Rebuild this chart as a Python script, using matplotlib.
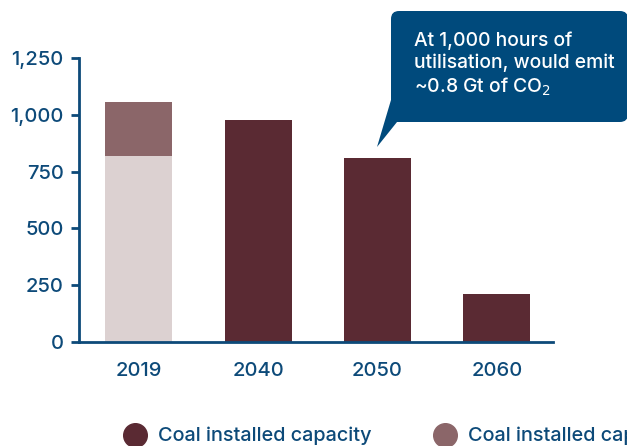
import numpy as np
import matplotlib
import matplotlib.pyplot as plt
from matplotlib.patches import Polygon, FancyBboxPatch
from matplotlib.lines import Line2D

matplotlib.rcParams.update({'font.family': ['Inter', 'DejaVu Sans']})

years = ['2019', '2040', '2050', '2060']
installed = [818, 977, 810, 211]
retired = [238, 0, 0, 0]

DARK = '#5a2a33'
MID = '#8b6669'
LIGHT = '#dcd1d1'
BLUE = '#0d4a79'
BOX = '#004a7c'

fig = plt.figure(figsize=(6.27, 4.46), dpi=100)
ax = fig.add_axes([0.126, 0.233, 0.756, 0.637])

x = np.arange(len(years))
base_colors = [LIGHT, DARK, DARK, DARK]
ax.bar(x, installed, width=0.56, color=base_colors)
ax.bar(x[:1], retired[:1], bottom=installed[:1], width=0.56, color=MID)

ax.set_xlim(-0.5, 3.47)
ax.set_ylim(0, 1250)
ax.set_yticks([0, 250, 500, 750, 1000, 1250])
ax.set_yticklabels(['0', '250', '500', '750', '1,000', '1,250'])
ax.set_xticks(x)
ax.set_xticklabels(years)

for s in ['top', 'right']:
    ax.spines[s].set_visible(False)
for s in ['left', 'bottom']:
    ax.spines[s].set_color(BLUE)
    ax.spines[s].set_linewidth(2)
ax.tick_params(axis='y', colors=BLUE, labelsize=14.5, length=6, width=2, pad=5)
ax.tick_params(axis='x', colors=BLUE, labelsize=14.5, length=0, pad=14)
for lab in ax.get_xticklabels() + ax.get_yticklabels():
    lab.set_fontweight('medium')

# callout (coords in inches from bottom-left)
H = 4.46
box = FancyBboxPatch((3.91, H - 1.22), 2.37, 1.11,
                     boxstyle='round,pad=0,rounding_size=0.08',
                     transform=fig.dpi_scale_trans, facecolor=BOX,
                     edgecolor='none')
fig.patches.append(box)
tail = Polygon([[3.91, H - 1.0], [3.77, H - 1.47], [3.97, H - 1.22],
                [4.05, H - 1.22], [4.05, H - 1.0]],
               closed=True, transform=fig.dpi_scale_trans, facecolor=BOX,
               edgecolor='none')
fig.patches.append(tail)
fig.text(4.14 / 6.27, 1 - 0.31 / H,
         'At 1,000 hours of\nutilisation, would emit\n~0.8 Gt of CO$_2$',
         color='white', fontsize=13.9, va='top', ha='left',
         linespacing=1.25, fontweight='medium')

# legend
fig.add_artist(Line2D([135 / 627], [1 - 435 / 446], marker='o', markersize=17,
                      color=DARK, linestyle='none', transform=fig.transFigure))
fig.text(158 / 627, 1 - 436 / 446, 'Coal installed capacity',
         color=BLUE, fontsize=14.3, va='center', fontweight='medium')
fig.add_artist(Line2D([445 / 627], [1 - 435 / 446], marker='o', markersize=17,
                      color=MID, linestyle='none', transform=fig.transFigure))
fig.text(468 / 627, 1 - 436 / 446, 'Coal installed cap',
         color=BLUE, fontsize=14.3, va='center', fontweight='medium')

fig.savefig('out.png', dpi=100)
